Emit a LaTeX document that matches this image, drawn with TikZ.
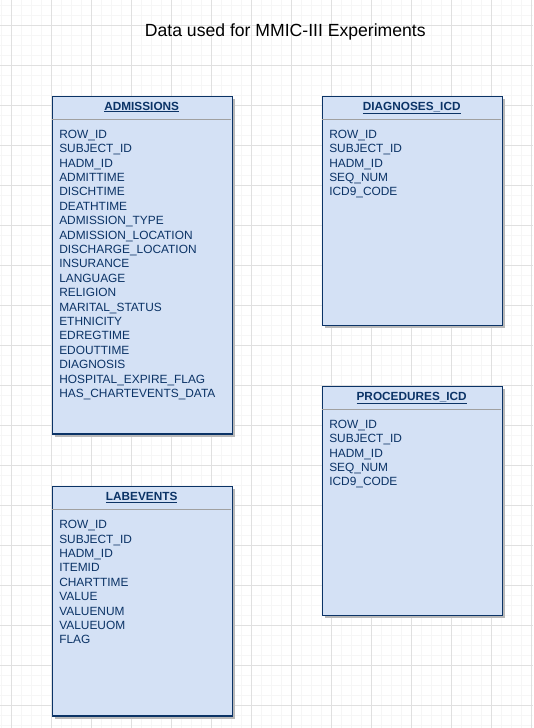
\documentclass[tikz,border=0pt]{standalone}
\usepackage{fontspec}
\setmainfont{Liberation Sans}
\definecolor{boxfill}{HTML}{D4E1F5}
\definecolor{boxline}{HTML}{0B3366}
\definecolor{gridmaj}{HTML}{E0E0E0}
\definecolor{gridmin}{HTML}{F6F6F6}
\definecolor{sepline}{HTML}{A0A0A0}
\definecolor{shadowc}{HTML}{B8B8B8}
\tikzset{
  gridminor/.style={draw=gridmin, line width=1pt},
  gridmajor/.style={draw=gridmaj, line width=1pt},
  tablebox/.style={draw=boxline, fill=boxfill, line width=1.2pt, rectangle, inner sep=0pt, anchor=north west},
  shadowbox/.style={fill=shadowc, draw=none, rectangle, inner sep=0pt, anchor=north west},
  header/.style={anchor=base, inner sep=0pt, text=boxline, font=\fontsize{11.8}{14}\selectfont\bfseries},
  field/.style={anchor=base west, inner sep=0pt, text=boxline, font=\fontsize{11.9}{14}\selectfont},
  titletext/.style={anchor=base, inner sep=0pt, text=black, font=\fontsize{17.6}{20}\selectfont},
  sep/.style={draw=sepline, line width=1.2pt}
}
\newcommand{\erdtable}[6]{%
  % #1 name, #2 left x, #3 top y, #4 height, #5 title, #6 field list
  \node[shadowbox, minimum width=180pt, minimum height=#4pt] (#1shadow) at ({#2+3},{#3+3}) {};
  \node[tablebox, minimum width=180pt, minimum height=#4pt] (#1) at (#2,#3) {};
  \node[header] (#1title) at ({#2+90},{#3+14.3}) {\underline{#5}};
  \draw[sep] ({#2+0.6},{#3+23.6}) coordinate (#1sepL) -- ({#2+179.4},{#3+23.6}) coordinate (#1sepR);
  \foreach \f [count=\k from 0] in {#6} {
    \node[field] (#1f\k) at ({#2+7.4},{#3+42.6+14.4*\k}) {\f};
  }%
}
\begin{document}
\begin{tikzpicture}[x=1pt,y=-1pt]
\useasboundingbox (0,0) rectangle (533,728);
\fill[white] (0,0) rectangle (533,728);
% grid
\foreach \i in {0,...,53} \draw[gridminor] ({1.7+10*\i},0) -- ({1.7+10*\i},728);
\foreach \i in {0,...,72} \draw[gridminor] (0,{5.7+10*\i}) -- (533,{5.7+10*\i});
\foreach \i in {0,...,13} \draw[gridmajor] ({11.7+40*\i},0) -- ({11.7+40*\i},728);
\foreach \i in {0,...,17} \draw[gridmajor] (0,{25.7+40*\i}) -- (533,{25.7+40*\i});
% title
\node[titletext] (title) at (285.3,36.7) {Data used for MMIC-III Experiments};
% tables
\erdtable{adm}{51.7}{95.7}{337.6}{ADMISSIONS}{ROW\_ID,SUBJECT\_ID,HADM\_ID,ADMITTIME,DISCHTIME,DEATHTIME,ADMISSION\_TYPE,ADMISSION\_LOCATION,DISCHARGE\_LOCATION,INSURANCE,LANGUAGE,RELIGION,MARITAL\_STATUS,ETHNICITY,EDREGTIME,EDOUTTIME,DIAGNOSIS,HOSPITAL\_EXPIRE\_FLAG,HAS\_CHARTEVENTS\_DATA}
\erdtable{diag}{321.7}{95.7}{229.3}{DIAGNOSES\_ICD}{ROW\_ID,SUBJECT\_ID,HADM\_ID,SEQ\_NUM,ICD9\_CODE}
\erdtable{proc}{321.7}{385.7}{229.3}{PROCEDURES\_ICD}{ROW\_ID,SUBJECT\_ID,HADM\_ID,SEQ\_NUM,ICD9\_CODE}
\erdtable{lab}{51.7}{486}{229.3}{LABEVENTS}{ROW\_ID,SUBJECT\_ID,HADM\_ID,ITEMID,CHARTTIME,VALUE,VALUENUM,VALUEUOM,FLAG}
\end{tikzpicture}
\end{document}
